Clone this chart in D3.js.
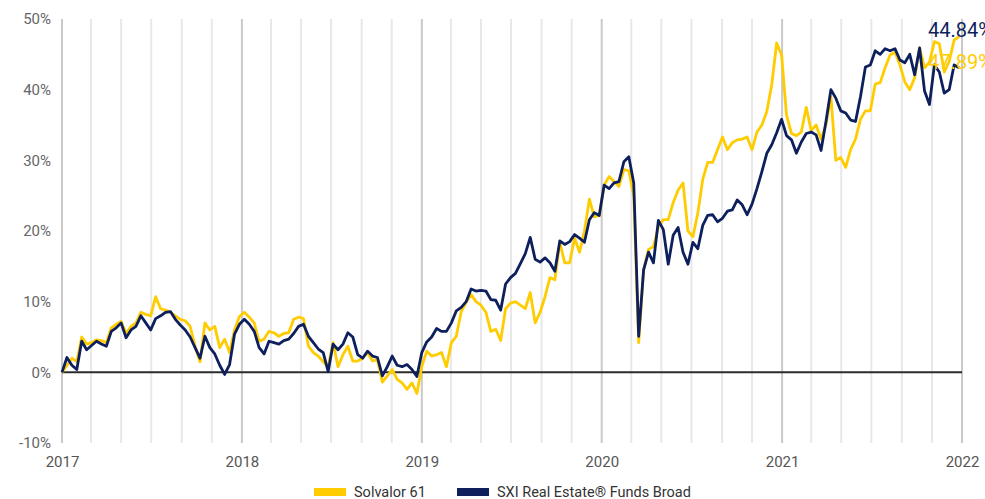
<!DOCTYPE html>
<html>
<head>
<meta charset="utf-8">
<script src="https://cdn.jsdelivr.net/npm/d3@7"></script>
<style>
  html, body { margin: 0; padding: 0; background: #fff; }
  svg { display: block; font-family: Roboto, "Noto Sans", sans-serif; }
</style>
</head>
<body>
<svg id="chart" width="985" height="499"></svg>
<script>
// ---- Data (cumulative performance in %, sampled every 10 days from 2017-01-01) ----
const seriesNames = ["Solvalor 61", "SXI Real Estate® Funds Broad"];
const seriesColors = ["#FFCC00", "#0D1F5C"];
const startDate = "2017-01-01";
const stepDays = 10;

const solvalor = [
  0, 1.0, 2.0, 1.5, 5.0, 4.0, 4.2, 4.6, 4.5, 4.2,
  6.3, 6.8, 7.2, 5.5, 6.5, 7.0, 8.5, 8.2, 8.0, 10.7,
  9.0, 8.8, 8.5, 8.0, 7.5, 7.3, 6.5, 3.7, 1.5, 7.0,
  6.0, 6.5, 3.5, 4.7, 2.8, 6.0, 7.9, 8.5, 7.8, 7.0,
  4.4, 4.7, 5.8, 5.6, 5.1, 5.5, 5.6, 7.5, 7.8, 7.6,
  3.7, 2.8, 2.3, 1.5, 0.8, 4.2, 0.8, 2.5, 3.7, 1.6,
  1.6, 2.0, 2.8, 1.6, 1.8, -1.4, -0.5, 0.4, -1.0, -1.5,
  -2.4, -1.5, -3.0, 0.8, 3.0, 2.3, 2.5, 2.8, 0.8, 4.2,
  5.1, 8.6, 9.9, 11.0, 10.0, 9.5, 8.5, 5.8, 6.1, 4.5,
  9.0, 9.8, 10.0, 9.5, 9.0, 11.3, 7.0, 8.5, 10.7, 13.4,
  13.1, 18.4, 15.5, 15.5, 19.0, 17.0, 20.0, 24.5, 22.0, 22.2,
  26.5, 27.7, 27.0, 26.3, 28.7, 28.5, 25.0, 4.2, 14.5, 17.4,
  17.8, 20.6, 21.6, 21.6, 24.0, 25.8, 26.8, 20.0, 19.2, 22.5,
  27.3, 29.7, 29.7, 31.5, 33.3, 31.5, 32.5, 32.9, 33.0, 33.3,
  31.5, 34.0, 35.0, 36.9, 40.7, 46.6, 44.9, 36.4, 33.8, 33.5,
  34.0, 37.5, 34.2, 35.0, 33.0, 35.0, 39.0, 30.0, 30.4, 29.0,
  31.5, 33.0, 35.8, 37.0, 37.0, 40.8, 41.0, 43.1, 44.9, 45.3,
  43.5, 41.1, 40.0, 41.7, 45.9, 43.1, 43.9, 46.8, 46.5, 42.5,
  44.0, 47.0, 47.5
];

const sxi = [
  0, 2.1, 1.0, 0.4, 4.4, 3.2, 3.8, 4.4, 4.0, 3.7,
  5.8, 6.3, 7.0, 4.9, 6.0, 6.5, 8.0, 7.0, 6.0, 7.6,
  8.0, 8.5, 8.6, 7.5, 6.7, 6.0, 5.0, 3.5, 2.0, 5.1,
  3.5, 2.6, 1.0, -0.3, 1.1, 5.4, 6.8, 7.5, 6.8, 5.8,
  3.5, 2.6, 4.4, 4.2, 4.0, 4.5, 4.7, 5.5, 6.5, 6.8,
  5.1, 4.2, 3.3, 2.8, 0.1, 4.0, 3.2, 4.0, 5.6, 5.0,
  2.5, 2.0, 3.0, 2.3, 2.1, -0.5, 0.8, 2.3, 1.0, 0.8,
  1.1, 0.4, -0.6, 2.8, 4.3, 5.0, 6.2, 5.8, 5.8, 7.0,
  8.7, 9.2, 10.0, 11.8, 11.5, 11.6, 11.5, 10.3, 10.2, 8.8,
  12.5, 13.4, 14.0, 15.4, 16.8, 19.1, 16.0, 15.6, 16.2, 15.5,
  14.3, 18.6, 18.1, 18.5, 19.5, 19.0, 18.4, 21.6, 22.6, 22.2,
  26.5, 26.0, 26.8, 27.0, 29.8, 30.5, 26.8, 5.1, 14.5, 17.0,
  15.5, 21.5, 20.2, 15.3, 19.4, 20.5, 17.0, 15.3, 18.4, 17.5,
  20.8, 22.2, 22.3, 21.3, 21.8, 22.8, 23.0, 24.4, 23.7, 22.3,
  23.8, 26.0, 28.4, 31.0, 32.2, 33.9, 35.8, 33.5, 32.9, 31.0,
  32.6, 33.8, 34.0, 33.6, 31.4, 35.5, 40.0, 38.8, 37.0, 36.7,
  35.7, 35.5, 39.0, 43.2, 43.5, 45.5, 45.0, 45.8, 45.5, 45.8,
  44.2, 43.8, 45.0, 42.1, 45.9, 39.8, 37.9, 43.5, 42.5, 39.5,
  40.0, 43.5, 43.1
];

const endLabels = ["47.89%", "44.84%"];
const yTicks = [-10, 0, 10, 20, 30, 40, 50];
const xTickYears = [2017, 2018, 2019, 2020, 2021, 2022];

// ---- Layout ----
const W = 985, H = 499;
const mLeft = 62, mRight = 962, mTop = 19, mBottom = 443;

const svg = d3.select("#chart");
const parse = d3.timeParse("%Y-%m-%d");
const t0 = parse(startDate);
const dateAt = i => d3.timeDay.offset(t0, i * stepDays);

const x = d3.scaleTime()
  .domain([new Date(2017, 0, 1), new Date(2022, 0, 1)])
  .range([mLeft, mRight]);
const y = d3.scaleLinear().domain([-10, 50]).range([mBottom, mTop]);

// vertical grid: every 2 months, year lines darker
const gridDates = d3.timeMonth.every(2).range(new Date(2017, 0, 1), new Date(2022, 0, 2));
svg.append("g").selectAll("line")
  .data(gridDates)
  .join("line")
  .attr("x1", d => x(d)).attr("x2", d => x(d))
  .attr("y1", mTop).attr("y2", mBottom)
  .attr("stroke", d => d.getMonth() === 0 ? "#c9c9c9" : "#e8e8e8")
  .attr("stroke-width", 2);

// y axis labels
const yAxis = d3.axisLeft(y).tickValues(yTicks).tickSize(0).tickPadding(0)
  .tickFormat(d => d + "%");
const gy = svg.append("g").attr("transform", `translate(${mLeft - 11},0)`).call(yAxis);
gy.select(".domain").remove();
gy.selectAll("text").attr("fill", "#666").attr("font-size", 15)
  .attr("font-family", "Roboto, sans-serif");

// x axis labels
const xAxis = d3.axisBottom(x)
  .tickValues(xTickYears.map(yr => new Date(yr, 0, 1)))
  .tickSize(0).tickPadding(0).tickFormat(d3.timeFormat("%Y"));
const gx = svg.append("g").attr("transform", `translate(0,${mBottom + 13})`).call(xAxis);
gx.select(".domain").remove();
gx.selectAll("text").attr("fill", "#555").attr("font-size", 15)
  .attr("font-family", "Roboto, sans-serif");

// zero line
svg.append("line")
  .attr("x1", mLeft).attr("x2", mRight)
  .attr("y1", y(0)).attr("y2", y(0))
  .attr("stroke", "#2b2b2b").attr("stroke-width", 2);

// series lines
const line = d3.line()
  .x((d, i) => x(dateAt(i)))
  .y(d => y(d));

[solvalor, sxi].forEach((vals, k) => {
  svg.append("path")
    .datum(vals)
    .attr("fill", "none")
    .attr("stroke", seriesColors[k])
    .attr("stroke-width", 2.8)
    .attr("stroke-linejoin", "round")
    .attr("d", line);
});

// end labels (cut by the right edge, as in the reference)
const lastX = x(dateAt(sxi.length - 1));
svg.append("text")
  .attr("x", lastX - 31).attr("y", 37)
  .attr("fill", seriesColors[1]).attr("font-size", 20)
  .text(endLabels[1]);
svg.append("text")
  .attr("x", lastX - 31).attr("y", 69)
  .attr("fill", seriesColors[0]).attr("font-size", 20)
  .text(endLabels[0]);

// legend
const legend = svg.append("g").attr("transform", "translate(314,488)");
const legendX = [0, 143];
seriesNames.forEach((name, k) => {
  const g = legend.append("g").attr("transform", `translate(${legendX[k]},0)`);
  g.append("rect").attr("x", 0).attr("y", 0).attr("width", 32).attr("height", 8)
    .attr("fill", seriesColors[k]);
  g.append("text").attr("x", 40).attr("y", 8.5)
    .attr("fill", "#333").attr("font-size", 14.5)
    .text(name);
});
</script>
</body>
</html>
